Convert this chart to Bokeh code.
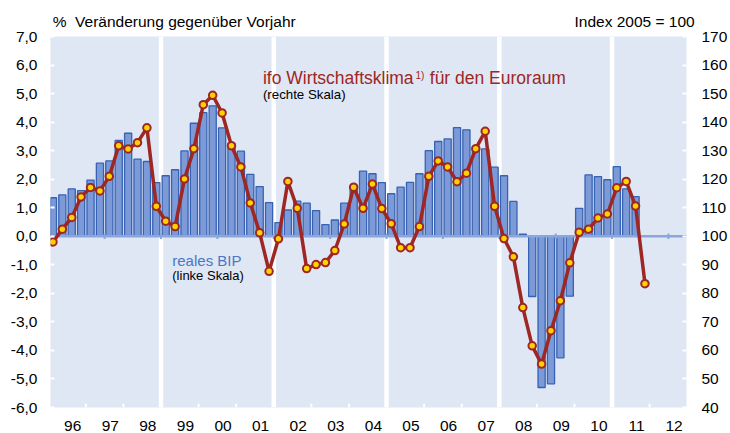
from bokeh.plotting import figure
from bokeh.models import Range1d, LinearAxis, FixedTicker, Span, Label
from bokeh.embed import file_html
from bokeh.resources import INLINE

# ---------------- data ----------------
years = list(range(1996, 2013))
year_labels = ["96", "97", "98", "99", "00", "01", "02", "03", "04",
               "05", "06", "07", "08", "09", "10", "11", "12"]

# real GDP euro area, % change on previous year, quarterly from 1996 Q1
gdp = [1.35, 1.45, 1.66, 1.60,
       1.97, 2.56, 2.64, 3.36,
       3.61, 2.70, 2.62, 1.88,
       2.12, 2.33, 2.99, 3.96,
       4.33, 4.57, 3.80, 3.26,
       2.98, 2.17, 1.74, 1.18,
       0.48, 0.92, 1.23, 1.16,
       0.90, 0.41, 0.57, 1.16,
       1.70, 2.28, 2.19, 1.88,
       1.49, 1.72, 1.89, 2.19,
       3.00, 3.32, 3.41, 3.81,
       3.73, 3.10, 3.06, 2.42,
       2.12, 1.22, 0.07, -2.11,
       -5.30, -5.17, -4.26, -2.10,
       0.98, 2.15, 2.09, 1.98,
       2.44, 1.66, 1.39]

# ifo economic climate euro area, 2005 = 100, quarterly from 1996 Q1
ifo = [98.0, 102.5, 106.6, 113.8,
       117.1, 115.9, 121.0, 131.7,
       130.6, 132.8, 138.0, 110.5,
       105.3, 103.4, 120.1, 130.7,
       146.1, 149.4, 143.2, 131.7,
       124.3, 111.7, 101.2, 87.7,
       99.1, 119.2, 109.8, 88.7,
       90.1, 90.8, 95.0, 104.3,
       117.2, 109.8, 118.3, 109.7,
       104.4, 96.0, 96.0, 103.4,
       121.0, 126.4, 124.3, 119.1,
       122.1, 130.7, 136.8, 110.5,
       99.2, 92.8, 75.0, 61.6,
       55.2, 66.9, 77.4, 90.7,
       101.4, 102.5, 106.4, 107.8,
       117.0, 119.2, 110.6, 83.4]

separator_years = [1999, 2002, 2005, 2008, 2011]
left_ticks = list(range(-6, 8))
right_ticks = list(range(40, 171, 10))
title_left = "%\u00a0 Veränderung gegenüber Vorjahr"
title_right = "Index 2005 = 100"

# ---------------- derived ----------------
x_gdp = [years[0] + (i + 0.5) / 4 for i in range(len(gdp))]
x_ifo = [years[0] + (i + 0.5) / 4 for i in range(len(ifo))]

X0, X1 = 1996.06, 2012.98
Y0, Y1 = -6, 7

BG = "#DFE6F4"
BAR_FILL = "#7B9AD7"
BAR_LINE = "#3762B3"
ZERO = "#8AA7DC"
RED = "#9E2724"
YELLOW = "#FFD200"
BLUE_TXT = "#4A77C4"
FONT = "Liberation Sans"

p = figure(width=730, height=433, output_backend="svg", toolbar_location=None,
           x_range=Range1d(X0, X1), y_range=Range1d(Y0, Y1),
           min_border_left=50, min_border_right=44,
           min_border_top=36, min_border_bottom=26)
p.background_fill_color = BG
p.border_fill_color = "white"
p.outline_line_color = None
p.xgrid.visible = False
p.ygrid.visible = False

p.extra_y_ranges = {"ifo": Range1d(40, 170)}

# white separators
for yr in separator_years:
    p.add_layout(Span(location=yr, dimension="height", line_color="white",
                      line_width=4.5, level="underlay"))

# bars
p.vbar(x=x_gdp, top=gdp, bottom=0, width=0.19, fill_color=BAR_FILL,
       line_color=BAR_LINE, line_width=1.3)

# zero line with small marks
p.segment(x0=[X0], x1=[X1], y0=[0], y1=[0], line_color=ZERO, line_width=2.5)
marks = [years[0] + 1.5 * k for k in range(1, 12)]
p.segment(x0=marks, x1=marks, y0=[-0.1] * len(marks), y1=[0.1] * len(marks),
          line_color=ZERO, line_width=2)

# white ticks at bottom at year boundaries
bt = years[1:]
p.segment(x0=bt, x1=bt, y0=[Y0] * len(bt), y1=[Y0 + 0.13] * len(bt),
          line_color="white", line_width=2)

# ifo line
p.line(x=x_ifo, y=ifo, y_range_name="ifo", line_color=RED, line_width=3.5)
p.scatter(x=x_ifo, y=ifo, y_range_name="ifo", size=7.5, fill_color=YELLOW,
          line_color=RED, line_width=2)

# axes
def style(ax, size="15.5px"):
    ax.axis_line_color = None
    ax.minor_tick_line_color = None
    ax.major_label_text_font = FONT
    ax.major_label_text_font_size = size
    ax.major_label_text_color = "black"

style(p.xaxis[0])
p.xaxis.ticker = FixedTicker(ticks=[y + 0.65 for y in years])
p.xaxis.major_label_overrides = {y + 0.65: l for y, l in zip(years, year_labels)}
p.xaxis.major_tick_line_color = None
p.xaxis.major_label_standoff = 7

style(p.yaxis[0])
p.yaxis.ticker = FixedTicker(ticks=left_ticks)
p.yaxis.major_label_overrides = {t: f"{t:.1f}".replace(".", ",") for t in left_ticks}
p.yaxis.major_tick_in = 4
p.yaxis.major_tick_out = 0
p.yaxis.major_tick_line_color = "white"
p.yaxis.major_tick_line_width = 2
p.yaxis.major_label_standoff = 13

ry = LinearAxis(y_range_name="ifo", ticker=FixedTicker(ticks=right_ticks))
style(ry)
ry.major_tick_in = 4
ry.major_tick_out = 0
ry.major_tick_line_color = "white"
ry.major_tick_line_width = 2
ry.major_label_standoff = 15
p.add_layout(ry, "right")

# top titles, carried by an axis above the frame
tl_x, tr_x = 1999.35, 2011.60
top = LinearAxis(ticker=FixedTicker(ticks=[tl_x, tr_x]))
style(top)
top.major_tick_line_color = None
top.major_label_overrides = {tl_x: title_left, tr_x: title_right}
top.major_label_standoff = 1
p.add_layout(top, "above")

# texts in the plot
def lab(x, y, text, size, color="black", align="left"):
    p.add_layout(Label(x=x, y=y, text=text, text_font=FONT, text_font_size=size,
                       text_color=color, text_align=align,
                       text_baseline="alphabetic"))

lab(2001.71, 5.55, "ifo Wirtschaftsklima", "17.5px", RED)
lab(2005.77, 5.64, "1)", "10px", RED)
lab(2006.15, 5.55, "für den Euroraum", "17.5px", RED)
lab(2001.71, 4.97, "(rechte Skala)", "13.3px")
lab(1999.30, -0.85, "reales BIP", "15px", BLUE_TXT)
lab(1999.30, -1.36, "(linke Skala)", "13px")

open("out.html", "w").write(file_html(p, INLINE))
